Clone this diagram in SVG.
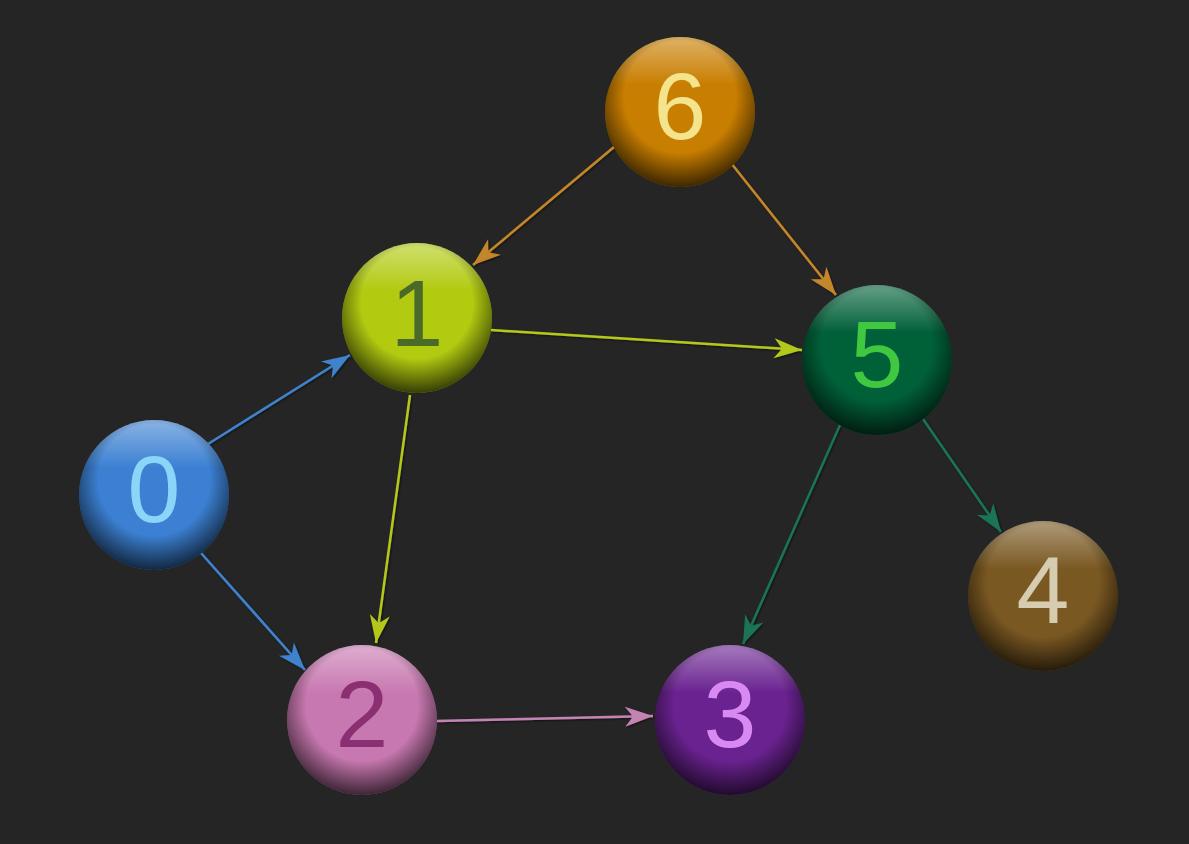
<svg xmlns="http://www.w3.org/2000/svg" width="1189" height="844" viewBox="0 0 1189 844">
<style>
.edge{fill:none;stroke-width:2.5;}
.lbl{font-family:"Liberation Sans",Arial,sans-serif;font-size:95px;text-anchor:middle;}
</style>
<defs>
<linearGradient id="hl" x1="0" y1="0" x2="0" y2="1">
<stop offset="0" stop-color="#fff" stop-opacity="0.4"/>
<stop offset="0.32" stop-color="#fff" stop-opacity="0"/>
</linearGradient>
<radialGradient id="sh" cx="0.5" cy="0.4" r="0.62">
<stop offset="0.6" stop-color="#000" stop-opacity="0"/>
<stop offset="1" stop-color="#000" stop-opacity="0.75"/>
</radialGradient>
<filter id="ds" x="-20%" y="-20%" width="140%" height="140%">
<feDropShadow dx="1" dy="1" stdDeviation="0.8" flood-color="#000" flood-opacity="0.6"/>
</filter>
<marker id="mBlue" markerUnits="userSpaceOnUse" viewBox="-30 -12 32 24" refX="0" refY="0" markerWidth="32" markerHeight="24" orient="auto"><path d="M0,0 L-28,-10 L-20,0 L-28,10 Z" fill="#3f82cc"/></marker>
<marker id="mLime" markerUnits="userSpaceOnUse" viewBox="-30 -12 32 24" refX="0" refY="0" markerWidth="32" markerHeight="24" orient="auto"><path d="M0,0 L-28,-10 L-20,0 L-28,10 Z" fill="#b4c81c"/></marker>
<marker id="mOrange" markerUnits="userSpaceOnUse" viewBox="-30 -12 32 24" refX="0" refY="0" markerWidth="32" markerHeight="24" orient="auto"><path d="M0,0 L-28,-10 L-20,0 L-28,10 Z" fill="#c4862a"/></marker>
<marker id="mTeal" markerUnits="userSpaceOnUse" viewBox="-30 -12 32 24" refX="0" refY="0" markerWidth="32" markerHeight="24" orient="auto"><path d="M0,0 L-28,-10 L-20,0 L-28,10 Z" fill="#1a7358"/></marker>
<marker id="mPink" markerUnits="userSpaceOnUse" viewBox="-30 -12 32 24" refX="0" refY="0" markerWidth="32" markerHeight="24" orient="auto"><path d="M0,0 L-28,-10 L-20,0 L-28,10 Z" fill="#c384b4"/></marker>
</defs>
<rect width="1189" height="844" fill="#252525"/>
<g id="connectors" filter="url(#ds)">
<line class="edge" x1="208" y1="444" x2="350" y2="355" stroke="#3f82cc" marker-end="url(#mBlue)"/>
<line class="edge" x1="201" y1="553" x2="305" y2="670" stroke="#3f82cc" marker-end="url(#mBlue)"/>
<line class="edge" x1="410" y1="395" x2="376" y2="643" stroke="#b4c81c" marker-end="url(#mLime)"/>
<line class="edge" x1="491" y1="330" x2="802" y2="350" stroke="#b4c81c" marker-end="url(#mLime)"/>
<line class="edge" x1="614" y1="147" x2="473" y2="265" stroke="#c4862a" marker-end="url(#mOrange)"/>
<line class="edge" x1="731" y1="163" x2="836" y2="295" stroke="#c4862a" marker-end="url(#mOrange)"/>
<line class="edge" x1="840" y1="425" x2="743" y2="644" stroke="#1a7358" marker-end="url(#mTeal)"/>
<line class="edge" x1="923" y1="419" x2="1001" y2="532" stroke="#1a7358" marker-end="url(#mTeal)"/>
<line class="edge" x1="437" y1="721" x2="653" y2="716" stroke="#c384b4" marker-end="url(#mPink)"/>
</g>
<g id="node0">
<circle cx="154" cy="495" r="75" fill="#3b80d2"/>
<circle cx="154" cy="495" r="75" fill="url(#hl)"/>
<circle cx="154" cy="495" r="75" fill="url(#sh)"/>
<text class="lbl" x="154" y="522" fill="#8ad6f8">0</text>
</g>
<g id="node1">
<circle cx="417" cy="318" r="75" fill="#b2ca10"/>
<circle cx="417" cy="318" r="75" fill="url(#hl)"/>
<circle cx="417" cy="318" r="75" fill="url(#sh)"/>
<text class="lbl" x="417" y="346" fill="#4a6a2a">1</text>
</g>
<g id="node2">
<circle cx="362" cy="720" r="75" fill="#c878b0"/>
<circle cx="362" cy="720" r="75" fill="url(#hl)"/>
<circle cx="362" cy="720" r="75" fill="url(#sh)"/>
<text class="lbl" x="362" y="747" fill="#8a2f72">2</text>
</g>
<g id="node3">
<circle cx="730" cy="720" r="75" fill="#6a2290"/>
<circle cx="730" cy="720" r="75" fill="url(#hl)"/>
<circle cx="730" cy="720" r="75" fill="url(#sh)"/>
<text class="lbl" x="730" y="747" fill="#d88af2">3</text>
</g>
<g id="node4">
<circle cx="1043" cy="596" r="75" fill="#7a5822"/>
<circle cx="1043" cy="596" r="75" fill="url(#hl)"/>
<circle cx="1043" cy="596" r="75" fill="url(#sh)"/>
<text class="lbl" x="1043" y="623" fill="#d6ccb0">4</text>
</g>
<g id="node5">
<circle cx="877" cy="360" r="75" fill="#006038"/>
<circle cx="877" cy="360" r="75" fill="url(#hl)"/>
<circle cx="877" cy="360" r="75" fill="url(#sh)"/>
<text class="lbl" x="877" y="387" fill="#40c840">5</text>
</g>
<g id="node6">
<circle cx="680" cy="112" r="75" fill="#c87e00"/>
<circle cx="680" cy="112" r="75" fill="url(#hl)"/>
<circle cx="680" cy="112" r="75" fill="url(#sh)"/>
<text class="lbl" x="680" y="139" fill="#f4e48c">6</text>
</g>
</svg>
